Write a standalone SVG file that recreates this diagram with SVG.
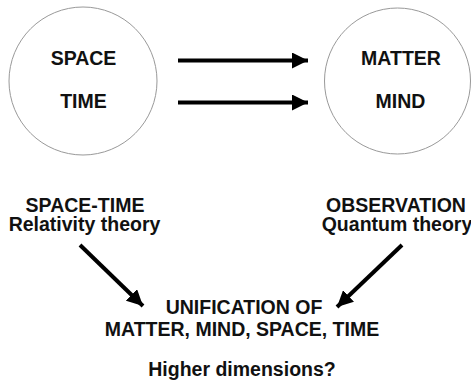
<svg xmlns="http://www.w3.org/2000/svg" width="471" height="385" viewBox="0 0 471 385">
<style>
.c{fill:#fff;stroke:#999;stroke-width:1}
.t{font-family:"Liberation Sans",Arial,sans-serif;font-weight:bold;font-size:19.5px;fill:#111;text-anchor:middle}
.a{stroke:#000;stroke-width:4;fill:none}
</style>
<defs>
<marker id="h" viewBox="0 0 10 10" refX="10" refY="5" markerWidth="4" markerHeight="4" markerUnits="strokeWidth" orient="auto">
<path d="M0,0 L10,5 L0,10 Z" fill="#000"/>
</marker>
</defs>
<rect width="471" height="385" fill="#fff"/>
<g id="node-left">
<circle class="c" cx="83" cy="81" r="74"/>
<text class="t" x="83.5" y="65">SPACE</text>
<text class="t" x="83.5" y="108">TIME</text>
</g>
<g id="node-right">
<circle class="c" cx="397.5" cy="81" r="73"/>
<text class="t" x="401" y="65">MATTER</text>
<text class="t" x="400.5" y="108">MIND</text>
</g>
<g id="node-relativity">
<text class="t" x="85" y="212">SPACE-TIME</text>
<text class="t" x="84.5" y="231">Relativity theory</text>
</g>
<g id="node-quantum">
<text class="t" x="396" y="212">OBSERVATION</text>
<text class="t" x="397" y="231">Quantum theory</text>
</g>
<g id="node-unification">
<text class="t" x="244" y="314">UNIFICATION OF</text>
<text class="t" x="242" y="336">MATTER, MIND, SPACE, TIME</text>
<text class="t" x="242" y="376">Higher dimensions?</text>
</g>
<g id="connectors">
<line class="a" x1="178" y1="60.5" x2="308" y2="60.5" marker-end="url(#h)"/>
<line class="a" x1="178" y1="102.5" x2="308" y2="102.5" marker-end="url(#h)"/>
<line class="a" x1="80" y1="245" x2="143" y2="306" marker-end="url(#h)"/>
<line class="a" x1="402" y1="245" x2="337" y2="307" marker-end="url(#h)"/>
</g>
</svg>
